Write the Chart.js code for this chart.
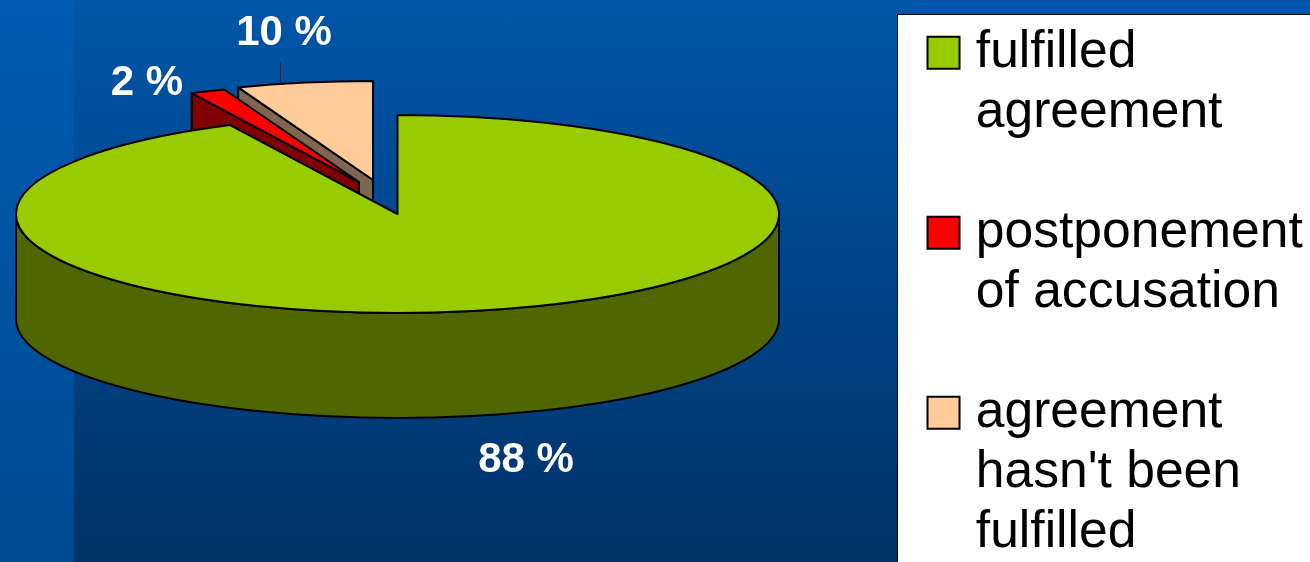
<!DOCTYPE html>
<html>
<head>
<meta charset="utf-8">
<style>
html,body{margin:0;padding:0;width:1310px;height:562px;overflow:hidden;background:#003a75;}
#bg{position:absolute;left:0;top:0;width:1310px;height:562px;background:linear-gradient(#0056a9,#003267);}
#strip{position:absolute;left:0;top:0;width:74px;height:562px;background:linear-gradient(#005bb2,#004a92);}
#panel{position:absolute;left:897px;top:14px;width:413px;height:548px;background:#fff;border-left:1.5px solid #000;border-top:1.5px solid #000;box-sizing:border-box;}
canvas{position:absolute;left:0;top:0;}
</style>
<script src="https://cdn.jsdelivr.net/npm/chart.js@4/dist/chart.umd.min.js"></script>
</head>
<body>
<div id="bg"></div><div id="strip"></div><div id="panel"></div>
<canvas id="c" width="1310" height="562"></canvas>
<script>
const categories = [["fulfilled","agreement"],["postponement","of accusation"],["agreement","hasn't been","fulfilled"]];
const percentValues = [88, 2, 10];
const topColors = ["#99cc00", "#ff0000", "#ffcc99"];
const wallColors = ["#506600", "#800000", "#806650"];

// 3D view of the pie
const VIEW = {
  cx: 397.5, cy: 214, radius: 381.5, squash: 99/381.5, depth: 105, warp: 0.52,
  explode: [[0,0],[-38.5,-123],[-24.5,-131]]
};

function warpAngle(t){ // foreshortening of the tilted disc, angle measured clockwise from 12 o'clock
  const T = Math.PI*2;
  if (t < 1e-6) return 0;
  if (t > T-1e-6) return T;
  let w = Math.atan2(VIEW.warp*Math.sin(t), Math.cos(t));
  if (w < 0) w += T;
  return w;
}
function geom(i){
  const e = VIEW.explode[i];
  return {x: VIEW.cx+e[0], y: VIEW.cy+e[1]*VIEW.squash, R: VIEW.radius, r: VIEW.radius*VIEW.squash};
}
function setStroke(ctx){
  ctx.strokeStyle = "#000"; ctx.lineWidth = 2; ctx.lineJoin = "round"; ctx.lineCap = "round";
}
let pieCenter = null;
const pie3d = {
  id: "pie3d",
  afterDatasetsUpdate(chart){
    const arcs = chart.getDatasetMeta(0).data;
    pieCenter = {x: arcs[0].x, y: arcs[0].y};
    arcs.forEach((arc,i)=>{
      const q = Math.PI/2;
      const a0 = warpAngle(arc.startAngle+q), a1 = warpAngle(arc.endAngle+q);
      arc.startAngle = a0-q; arc.endAngle = a1-q; arc.circumference = a1-a0;
      arc.x = pieCenter.x + VIEW.explode[i][0];
      arc.y = pieCenter.y + VIEW.explode[i][1];
    });
  },
  afterLayout(chart){
    const lg = chart.legend;
    lg.left = 937; lg.right = 1310; lg.top = 27; lg.bottom = 562;
    lg.draw = function(){ lg._draw(); };
  },
  beforeDatasetsDraw(chart){
    const ctx = chart.ctx, arcs = chart.getDatasetMeta(0).data;
    ctx.save(); setStroke(ctx);
    // side walls: rear slices first
    [2,1].forEach(i=>{
      const a = arcs[i], g = geom(i);
      const ex = g.x+g.R*Math.cos(a.startAngle), ey = g.y+g.r*Math.sin(a.startAngle);
      ctx.beginPath();
      ctx.moveTo(g.x,g.y); ctx.lineTo(ex,ey); ctx.lineTo(ex,ey+VIEW.depth); ctx.lineTo(g.x,g.y+VIEW.depth); ctx.closePath();
      ctx.fillStyle = wallColors[i]; ctx.fill(); ctx.stroke();
    });
    const g = geom(0);
    ctx.beginPath();
    ctx.ellipse(g.x,g.y,g.R,g.r,0,0,Math.PI);
    ctx.ellipse(g.x,g.y+VIEW.depth,g.R,g.r,0,Math.PI,0,true);
    ctx.closePath();
    ctx.fillStyle = wallColors[0]; ctx.fill(); ctx.stroke();
    ctx.restore();
    // squash the library's own arcs onto the tilted plane
    ctx.save();
    ctx.translate(VIEW.cx,VIEW.cy); ctx.scale(1,VIEW.squash); ctx.translate(-pieCenter.x,-pieCenter.y);
  },
  afterDatasetsDraw(chart){
    const ctx = chart.ctx, arcs = chart.getDatasetMeta(0).data;
    ctx.restore();
    ctx.save(); setStroke(ctx);
    arcs.forEach((a,i)=>{
      const g = geom(i);
      ctx.beginPath();
      ctx.moveTo(g.x,g.y);
      ctx.ellipse(g.x,g.y,g.R,g.r,0,a.startAngle,a.endAngle);
      ctx.closePath(); ctx.stroke();
    });
    // percent labels
    ctx.fillStyle = "#fff"; ctx.font = "bold 42px 'Liberation Sans', Arial, sans-serif";
    ctx.textAlign = "center"; ctx.textBaseline = "middle";
    const anchors = [[526,460],[147,83],[284,33]];
    percentValues.forEach((v,i)=>ctx.fillText(v+" %", anchors[i][0], anchors[i][1]));
    // leader line for the 10 % label
    ctx.strokeStyle = "#0b2a52"; ctx.lineWidth = 1; ctx.lineCap="butt";
    ctx.beginPath(); ctx.moveTo(280.5,62); ctx.lineTo(280.5,84); ctx.stroke();
    ctx.restore();
  }
};

new Chart(document.getElementById("c"), {
  type: "pie",
  data: {
    labels: categories,
    datasets: [{
      data: percentValues,
      backgroundColor: topColors,
      borderWidth: 0,
      clip: false
    }]
  },
  options: {
    responsive: false,
    animation: false,
    events: [],
    radius: VIEW.radius,
    layout: {padding: 0},
    plugins: {
      tooltip: {enabled: false},
      legend: {
        display: true,
        position: "right",
        align: "start",
        labels: {
          usePointStyle: true,
          pointStyle: "rect",
          boxWidth: 13,
          boxHeight: 32,
          padding: 0,
          color: "#000",
          font: {family: "'Liberation Sans', Arial, sans-serif", size: 51.6, lineHeight: 60/51.6},
          generateLabels(chart){
            const items = Chart.overrides.pie.plugins.legend.labels.generateLabels(chart);
            return items.map(it=>{
              const lines = it.text.slice();
              while (lines.length < 3) lines.push("");
              return Object.assign(it,{text:lines, strokeStyle:"#000", lineWidth:2});
            });
          }
        }
      }
    }
  },
  plugins: [pie3d]
});
</script>
</body>
</html>
